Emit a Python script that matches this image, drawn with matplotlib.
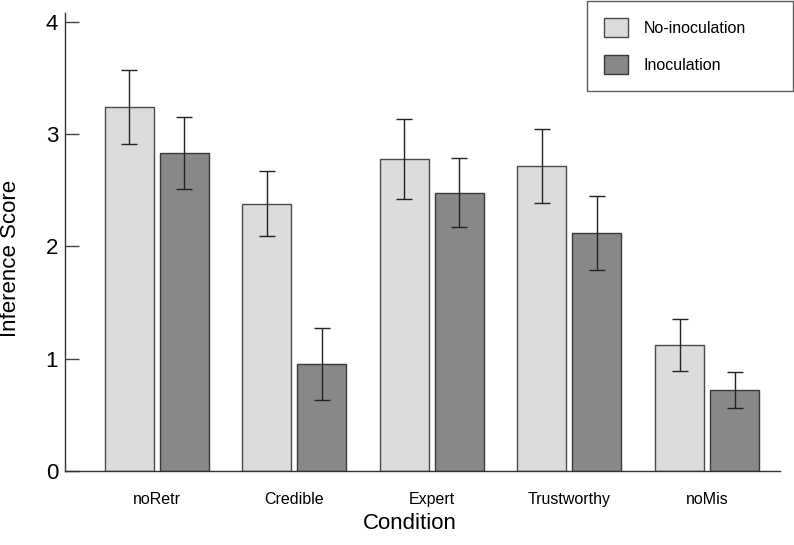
import numpy as np
import matplotlib
matplotlib.use("Agg")
import matplotlib.pyplot as plt

plt.rcParams['font.family'] = ['Liberation Sans', 'DejaVu Sans']

# data
conditions = ['noRetr', 'Credible', 'Expert', 'Trustworthy', 'noMis']
no_inoc = [3.24, 2.38, 2.78, 2.72, 1.12]
no_inoc_err = [0.33, 0.29, 0.36, 0.33, 0.23]
inoc = [2.83, 0.95, 2.48, 2.12, 0.72]
inoc_err = [0.32, 0.32, 0.31, 0.33, 0.16]
yticks = [0, 1, 2, 3, 4]

x = np.arange(len(conditions))
w = 0.356
off = 0.2

fig = plt.figure(figsize=(7.94, 5.45), dpi=100)
ax = fig.add_axes([65/794, 74/545, 715/794, 458/545])

err_kw = dict(ecolor='#222222', elinewidth=1.0, capsize=6, capthick=1.0)
ax.bar(x - off, no_inoc, w, yerr=no_inoc_err, color='#dcdcdc',
       edgecolor='#4a4a4a', linewidth=1.0, label='No-inoculation', error_kw=err_kw)
ax.bar(x + off, inoc, w, yerr=inoc_err, color='#888888',
       edgecolor='#3a3a3a', linewidth=1.0, label='Inoculation', error_kw=err_kw)

ax.set_xlim(-0.666, 4.53)
ax.set_ylim(0, 4.08)
ax.set_yticks(yticks)
ax.set_xticks(x)
ax.set_xticklabels(conditions, fontsize=11.5)
ax.tick_params(axis='x', length=0, pad=15)
ax.tick_params(axis='y', direction='in', length=10, width=1, pad=5,
               labelsize=16, color='#444444')

for s in ['top', 'right']:
    ax.spines[s].set_visible(False)
for s in ['left', 'bottom']:
    ax.spines[s].set_color('#333333')
    ax.spines[s].set_linewidth(1.0)

ax.set_ylabel('Inference Score', fontsize=16)
ax.yaxis.set_label_coords(-0.061, 0.465)
ax.set_xlabel('Condition', fontsize=16)
ax.xaxis.set_label_coords(0.4825, -0.092)
ax.xaxis.label.set_verticalalignment('top')

leg = fig.legend(loc='upper left',
                 bbox_to_anchor=(587/794, 1 - 1/545, 206/794, 0),
                 mode='expand', fontsize=11.5, frameon=True, fancybox=False,
                 handlelength=1.5, handleheight=1.5, handletextpad=1.0,
                 labelspacing=1.09, borderpad=1.05, borderaxespad=0)
leg.get_frame().set_edgecolor('#333333')
leg.get_frame().set_linewidth(1.0)

fig.savefig('out.png', dpi=100)
